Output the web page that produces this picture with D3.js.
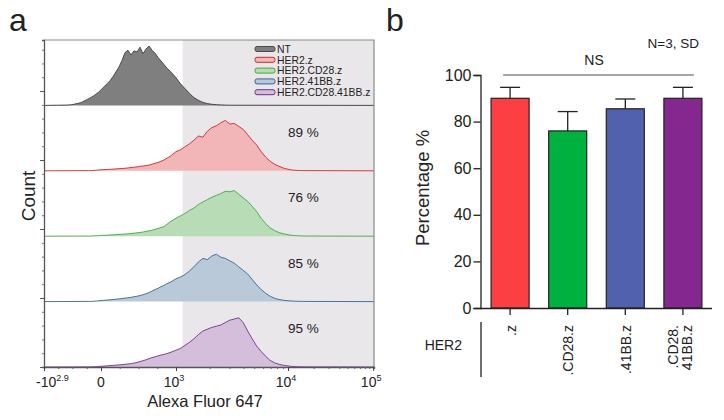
<!DOCTYPE html>
<html>
<head>
<meta charset="utf-8">
<script src="https://cdn.jsdelivr.net/npm/d3@7"></script>
<style>
  body { margin: 0; background: #fff; }
  svg { display: block; }
  text { font-family: "Liberation Sans", Arial, sans-serif; fill: #222; }
</style>
</head>
<body>
<div id="chart"></div>
<script>
// ---- panel a data: histograms on display scale (1 = 10^3, 2 = 10^4, 3 = 10^5) ----
const binStep = 0.04;
const ntStart = -0.6;
const ntCounts = [0.5, 0.8, 1.2, 1.8, 2.6, 3.4, 4.5, 6, 8, 10, 12, 14, 16.5, 19.5, 22, 26, 31, 36, 41, 48,
  56, 64, 75, 88, 92, 84, 91, 89, 97, 86, 94, 99, 92, 87, 80, 74, 68, 62, 57, 52, 46, 36, 28, 20, 13,
  8.5, 5, 3, 1.8, 1.2, 0.8, 0.5, 0.3];
const histStart = -0.2;
const her2zCounts = [0.3, 0.5, 0.7, 1, 1.3, 1.7, 2, 2.2, 2.5, 2.8, 3.2, 3.5, 3.8, 4.2, 4.8, 5.4, 6, 6.5,
  7.5, 8, 8.6, 9.5, 11, 12.5, 14, 16, 18, 21, 24, 28, 32, 35, 40, 45, 51, 58, 56, 66, 72, 75, 80, 84,
  78, 79, 74, 69, 60, 51, 43, 32, 23, 16, 11, 7.5, 4.5, 2.5, 1.5, 0.9, 0.6, 0.4, 0.3];
const cd28Counts = [0.3, 0.4, 0.6, 0.8, 1, 1.3, 1.5, 1.8, 2, 2.3, 2.6, 2.9, 3.2, 3.6, 4, 4.5, 5, 5.6,
  6.2, 7, 8, 9, 10, 11.5, 13, 14.5, 16, 20, 24, 27, 30, 34, 38, 43, 47, 53, 57, 61, 65, 68, 71, 75,
  74, 76, 70, 64, 58, 50, 41, 30, 21, 14, 9.5, 6, 4, 2.5, 1.6, 1, 0.7, 0.5, 0.3];
const bbCounts = [0.3, 0.4, 0.6, 1, 1.4, 1.8, 2.2, 2.6, 3, 3.5, 4, 4.5, 5.2, 5.8, 6.5, 7.2, 8, 9, 10,
  11.5, 13, 15, 17.5, 20, 22, 25, 27, 30, 32, 35, 38, 41, 45, 51, 58, 66, 72, 70, 76, 79, 74, 72, 68,
  64, 58, 52, 46, 37, 28, 20, 14, 9, 5.5, 3.5, 2.2, 1.4, 1, 0.7, 0.5, 0.4, 0.3];
const cd28bbCounts = [0.2, 0.3, 0.4, 0.6, 0.9, 1.2, 1.5, 1.9, 2.3, 2.7, 3.1, 3.5, 4, 4.5, 5, 5.6, 6.5,
  7.5, 9, 10.5, 12, 14, 15.5, 17, 18.5, 20, 21, 22.5, 24, 26, 28, 31, 36, 41, 47, 54, 60, 63, 66, 68,
  70, 74, 78, 80, 82, 74, 60, 47, 35, 26, 18, 11, 7, 4.5, 2.8, 1.8, 1, 0.6, 0.4, 0.3, 0.2];
const histNames = ["NT", "HER2.z", "HER2.CD28.z", "HER2.41BB.z", "HER2.CD28.41BB.z"];
const gatedPct = [null, 89, 76, 85, 95];
const gateStart = 1.06;
const xTickValues = [-1, 0, 1, 2, 3];
const xTickBase = ["-10", "0", "10", "10", "10"];
const xTickExp = ["2.9", "", "3", "4", "5"];

// ---- panel b data ----
const groups = [[".z"], [".CD28.z"], [".41BB.z"], [".CD28.", "41BB.z"]];
const means = [90, 76, 85.5, 90];
const sds = [4.7, 8.3, 4.2, 4.7];
const pctTicks = [0, 20, 40, 60, 80, 100];

const fills = ["#7f7f7f", "#f3b6b8", "#b8dcb6", "#b9c9d9", "#d5bedc"];
const strokes = ["#4a4a4a", "#cc2a30", "#45a645", "#3a6592", "#6f3189"];
const barColors = ["#fc3f43", "#00b13f", "#5161ad", "#84278f"];

const width = 724, height = 420;
const svg = d3.select("#chart").append("svg")
  .attr("width", width)
  .attr("height", height);

// ================= panel a =================
const aLeft = 44, aRight = 374, aTop = 40, aBottom = 367;
const rowH = (aBottom - aTop) / 5;

const x = d3.scaleLinear()
  .domain([-1, 0, 1, 2, 3.01])
  .range([aLeft, 101, 176, 288, aRight]);

svg.append("text").attr("x", 9).attr("y", 31).style("font-size", "32px").text("a");

// gate region
svg.append("rect")
  .attr("x", x(gateStart)).attr("y", aTop)
  .attr("width", aRight - x(gateStart)).attr("height", aBottom - aTop)
  .attr("fill", "#e9e7e9");

const allCounts = [ntCounts, her2zCounts, cd28Counts, bbCounts, cd28bbCounts];
const starts = [ntStart, histStart, histStart, histStart, histStart];

allCounts.forEach((counts, i) => {
  const base = aTop + (i + 1) * rowH;
  const y = d3.scaleLinear().domain([0, 109]).range([base, base - rowH]);
  const pts = [[x.domain()[0], 0]]
    .concat(counts.map((c, j) => [starts[i] + j * binStep, c]))
    .concat([[x.domain()[4], 0]]);
  svg.append("path")
    .attr("d", d3.area().x(d => x(d[0])).y0(base).y1(d => y(d[1]))(pts))
    .attr("fill", fills[i]);
  svg.append("path")
    .attr("d", d3.line().x(d => x(d[0])).y(d => y(d[1]))(pts))
    .attr("fill", "none")
    .attr("stroke", strokes[i])
    .attr("stroke-width", i === 0 ? 1 : 0.9);
  if (gatedPct[i] !== null) {
    svg.append("text")
      .attr("x", 288).attr("y", base - 34)
      .style("font-size", "13.5px")
      .text(gatedPct[i] + " %");
  }
});

// frame
svg.append("path")
  .attr("d", `M${aLeft},${aTop}H${aRight}V${aBottom}`)
  .attr("fill", "none").attr("stroke", "#8a8a8a").attr("stroke-width", 1.2);

// left count axis (ticks only)
const yCount = d3.scaleLinear().domain([0, 4.74]).range([aBottom, aTop]);
svg.append("g")
  .attr("transform", `translate(${aLeft},0)`)
  .call(d3.axisLeft(yCount).tickValues(d3.range(0, 4.74, 0.2)).tickSize(2).tickFormat(""))
  .call(g => g.select(".domain").attr("stroke", "#555").attr("stroke-width", 1.3))
  .call(g => g.selectAll(".tick line").attr("stroke", "#777"));
svg.append("g")
  .attr("transform", `translate(${aLeft},0)`)
  .call(d3.axisLeft(yCount).tickValues([0, 1, 2, 3, 4]).tickSize(4).tickFormat(""))
  .call(g => g.select(".domain").remove())
  .call(g => g.selectAll(".tick line").attr("stroke", "#555"));

// bottom axis
const minorX = [-0.75, -0.5, -0.25, 0.25, 0.5, 0.75]
  .concat(d3.range(2, 10).map(v => Math.log10(v) + 1))
  .concat(d3.range(2, 10).map(v => Math.log10(v) + 2));
svg.append("g")
  .attr("transform", `translate(0,${aBottom})`)
  .call(d3.axisBottom(x).tickValues(minorX).tickSize(2).tickFormat(""))
  .call(g => g.select(".domain").attr("stroke", "#555").attr("stroke-width", 1.3))
  .call(g => g.selectAll(".tick line").attr("stroke", "#666"));
svg.append("g")
  .attr("transform", `translate(0,${aBottom})`)
  .call(d3.axisBottom(x).tickValues(xTickValues).tickSize(4).tickFormat(""))
  .call(g => g.select(".domain").remove())
  .call(g => g.selectAll(".tick line").attr("stroke", "#444"));

xTickValues.forEach((v, i) => {
  const t = svg.append("text")
    .attr("x", i === 0 ? x(v) - 8 : x(v) + (xTickExp[i] ? -2 : 0))
    .attr("y", 387)
    .attr("text-anchor", i === 0 ? "start" : "middle")
    .style("font-size", "14px")
    .text(xTickBase[i]);
  if (xTickExp[i]) {
    t.append("tspan").attr("dy", -6).style("font-size", "9px").text(xTickExp[i]);
  }
});

svg.append("text")
  .attr("x", 205).attr("y", 407)
  .attr("text-anchor", "middle")
  .style("font-size", "16.5px")
  .text("Alexa Fluor 647");

svg.append("text")
  .attr("transform", "translate(35,196) rotate(-90)")
  .attr("text-anchor", "middle")
  .style("font-size", "19px")
  .text("Count");

// legend
const legend = svg.append("g").attr("transform", "translate(255,49)");
histNames.forEach((name, i) => {
  const g = legend.append("g").attr("transform", `translate(0,${i * 10.8})`);
  g.append("rect")
    .attr("x", 0).attr("y", -2.5).attr("width", 20).attr("height", 5).attr("rx", 2)
    .attr("fill", fills[i]).attr("stroke", strokes[i]).attr("stroke-width", 1);
  g.append("text")
    .attr("x", 22).attr("y", 3.8)
    .style("font-size", "10.4px")
    .text(name);
});

// ================= panel b =================
svg.append("text").attr("x", 386).attr("y", 31).style("font-size", "32px").text("b");

const bx = d3.scaleBand()
  .domain(d3.range(groups.length))
  .range([481, 712])
  .paddingInner(0.34)
  .paddingOuter(0.175);
const by = d3.scaleLinear().domain([0, 100]).range([308, 75]);

svg.append("g")
  .attr("transform", "translate(480.5,0)")
  .call(d3.axisLeft(by).tickValues(pctTicks).tickSize(7).tickPadding(2))
  .call(g => g.select(".domain").attr("stroke", "#222").attr("stroke-width", 1.3))
  .call(g => g.selectAll(".tick line").attr("stroke", "#222").attr("stroke-width", 1.3))
  .call(g => g.selectAll(".tick text").style("font-size", "16px").attr("fill", "#222"));

// bars
svg.append("g").selectAll("rect")
  .data(means)
  .join("rect")
  .attr("x", (d, i) => bx(i))
  .attr("y", d => by(d))
  .attr("width", bx.bandwidth())
  .attr("height", d => by(0) - by(d))
  .attr("fill", (d, i) => barColors[i])
  .attr("stroke", "#222")
  .attr("stroke-width", 1.2);

// error bars (upper only)
const err = svg.append("g").attr("stroke", "#222").attr("stroke-width", 1.3);
means.forEach((m, i) => {
  const cx = bx(i) + bx.bandwidth() / 2;
  err.append("line").attr("x1", cx).attr("x2", cx).attr("y1", by(m)).attr("y2", by(m + sds[i]));
  err.append("line").attr("x1", cx - 10).attr("x2", cx + 10).attr("y1", by(m + sds[i])).attr("y2", by(m + sds[i]));
});

// x axis
svg.append("g")
  .attr("transform", "translate(0,308)")
  .call(d3.axisBottom(bx).tickSize(7).tickFormat(""))
  .call(g => g.select(".domain").attr("d", "M480,0.5H712").attr("stroke", "#222").attr("stroke-width", 1.3))
  .call(g => g.selectAll(".tick line").attr("stroke", "#222").attr("stroke-width", 1.3));

// group labels
groups.forEach((lines, i) => {
  const cx = bx(i) + bx.bandwidth() / 2;
  const off = lines.length === 1 ? 5.5 : -5.4;
  const t = svg.append("text")
    .attr("transform", `translate(${cx + off},325) rotate(-90)`)
    .attr("text-anchor", "end")
    .style("font-size", "14px");
  lines.forEach((l, k) => {
    t.append("tspan").attr("x", 0).attr("dy", k === 0 ? 0 : 14.4).text(l);
  });
});

svg.append("line")
  .attr("x1", 481).attr("x2", 481).attr("y1", 322).attr("y2", 377)
  .attr("stroke", "#222").attr("stroke-width", 1.3);
svg.append("text")
  .attr("x", 462).attr("y", 350)
  .attr("text-anchor", "end")
  .style("font-size", "14px")
  .text("HER2");

svg.append("text")
  .attr("transform", "translate(429,188) rotate(-90)")
  .attr("text-anchor", "middle")
  .style("font-size", "18.5px")
  .text("Percentage %");

// significance
svg.append("line")
  .attr("x1", bx(0) + 12).attr("x2", bx(3) + bx.bandwidth() - 8)
  .attr("y1", by(100)).attr("y2", by(100))
  .attr("stroke", "#8a8a8a").attr("stroke-width", 1.3);
svg.append("text")
  .attr("x", 594).attr("y", 65)
  .attr("text-anchor", "middle")
  .style("font-size", "14px")
  .text("NS");
svg.append("text")
  .attr("x", 699).attr("y", 48)
  .attr("text-anchor", "end")
  .style("font-size", "13.5px")
  .text("N=3, SD");
</script>
</body>
</html>
